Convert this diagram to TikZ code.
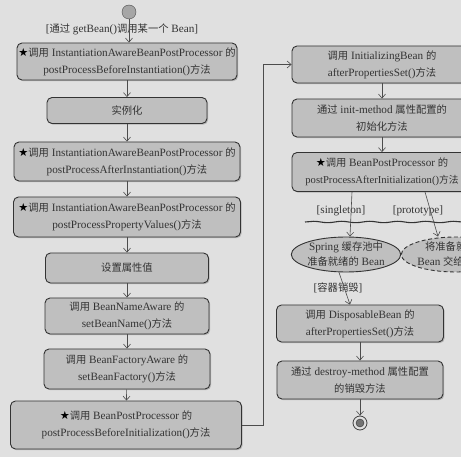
\documentclass[tikz,border=0pt]{standalone}
\usepackage{fontspec}
\setmainfont{Liberation Serif}
\newfontfamily\cjk[Scale=0.92]{Noto Sans CJK SC}
\newfontfamily\symf{DejaVu Sans}
\newcommand\zh[1]{{\cjk #1}}
\newcommand\st{{\symf\color{black}★}}
\usetikzlibrary{arrows.meta,shapes.geometric,shadows,decorations.pathmorphing}
\begin{document}
\begin{tikzpicture}[x=1pt,y=-1pt,
  box/.style={draw=black!80, line width=0.9pt, rounded corners=5pt, fill=black!25,
    text=black!80, align=center, inner sep=1pt,
    font=\fontsize{11.2}{17}\selectfont,
    drop shadow={shadow xshift=1.2pt,shadow yshift=-1.2pt,opacity=0.45}},
  ell/.style={ellipse, draw=black!80, line width=0.9pt, fill=black!25, text=black!80,
    align=center, inner sep=0pt, minimum width=104pt, minimum height=35pt,
    font=\fontsize{11.2}{15}\selectfont},
  arr/.style={draw=black!70, line width=0.6pt, -{Straight Barb[length=4pt,width=7pt]}},
  lab/.style={text=black!80, font=\fontsize{11.2}{12}\selectfont, inner sep=1pt}]
\useasboundingbox (0,0) rectangle (461,457);
\fill[black!12] (0,0) rectangle (461,457);
\clip (0,0) rectangle (461,457);

% start
\node[circle, draw=black!70, fill=black!35, minimum size=14pt, inner sep=0pt] (start) at (129,12) {};
\node[lab] (startlab) at (122,29) {[\zh{通过} getBean()\zh{调用某一个} Bean]};

% left column
\node[box, minimum width=220pt, minimum height=37pt] (b1) at (127,61.5)
  {\st\zh{调用} InstantiationAwareBeanPostProcessor \zh{的}\\postProcessBeforeInstantiation()\zh{方法}};
\node[box, minimum width=160pt, minimum height=26pt] (b2) at (127,110.5) {\zh{实例化}};
\node[box, minimum width=226pt, minimum height=39pt] (b3) at (127,161.5)
  {\st\zh{调用} InstantiationAwareBeanPostProcessor \zh{的}\\postProcessAfterInstantiation()\zh{方法}};
\node[box, minimum width=227pt, minimum height=40pt] (b4) at (127,217)
  {\st\zh{调用} InstantiationAwareBeanPostProcessor \zh{的}\\postProcessPropertyValues()\zh{方法}};
\node[box, minimum width=163pt, minimum height=30pt] (b5) at (127,268) {\zh{设置属性值}};
\node[box, minimum width=164pt, minimum height=36pt] (b6) at (127,316)
  {\zh{调用} BeanNameAware \zh{的}\\setBeanName()\zh{方法}};
\node[box, minimum width=166pt, minimum height=40pt] (b7) at (127,369)
  {\zh{调用} BeanFactoryAware \zh{的}\\setBeanFactory()\zh{方法}};
\node[box, minimum width=231pt, minimum height=48pt] (b8) at (126,425)
  {\st\zh{调用} BeanPostProcessor \zh{的}\\postProcessBeforeInitialization()\zh{方法}};

% right column
\node[box, minimum width=180pt, minimum height=37pt] (r1) at (382,64.5)
  {\zh{调用} InitializingBean \zh{的}\\afterPropertiesSet()\zh{方法}};
\node[box, minimum width=180pt, minimum height=38pt] (r2) at (382,118)
  {\zh{通过} init-method \zh{属性配置的}\\\zh{初始化方法}};
\node[box, minimum width=180pt, minimum height=39pt] (r3) at (382,172)
  {\st\zh{调用} BeanPostProcessor \zh{的}\\{\fontsize{10.6}{17}\selectfont postProcessAfterInitialization()\zh{方法}}};
\node[ell] (e1) at (346,254.5) {Spring \zh{缓存池中}\\\zh{准备就绪的} Bean};
\node[ell, dashed, dash pattern=on 4pt off 2.5pt] (e2) at (456,254.5) {\zh{将准备就绪的}\\Bean \zh{交给调用者}};
\node[box, minimum width=167pt, minimum height=37pt] (r4) at (360,323.5)
  {\zh{调用} DisposableBean \zh{的}\\afterPropertiesSet()\zh{方法}};
\node[box, minimum width=166pt, minimum height=38pt] (r5) at (360,380)
  {\zh{通过} destroy-method \zh{属性配置}\\\zh{的销毁方法}};
\node[circle, draw=black!75, line width=0.8pt, fill=black!12, minimum size=14pt, inner sep=0pt] (end) at (360,423) {};
\node[circle, fill=black!55, draw=black!80, minimum size=8pt, inner sep=0pt] (endin) at (end) {};

% fork bar
\draw[line width=1.1pt, black!80, decorate,
  decoration={snake, amplitude=0.7pt, segment length=28pt}] (305,222) -- (470,222);

% labels
\node[lab] (lsing) at (341,211) {[singleton]};
\node[lab] (lproto) at (418,211) {[prototype]};
\node[lab] (ldes) at (338,288) {[\zh{容器销毁}]};

% connectors
\draw[arr] (start.south) -- (start.south |- b1.north);
\draw[arr] (b1) -- (b2);
\draw[arr] (b2) -- (b3);
\draw[arr] (b3) -- (b4);
\draw[arr] (b4) -- (b5);
\draw[arr] (b5) -- (b6);
\draw[arr] (b6) -- (b7);
\draw[arr] (b7) -- (b8);
\draw[arr] (b8.east) -- ++(21,0) |- (r1.west);
\draw[arr] (r1) -- (r2);
\draw[arr] (r2) -- (r3);
\draw[arr] ([xshift=-30pt]r3.south) -- ([xshift=4pt]e1.north);
\draw[arr] ([xshift=43pt]r3.south) -- ([xshift=-18pt]e2.north);
\draw[arr] ([xshift=-7pt]e1.south) -- ([xshift=-10pt]r4.north);
\draw[arr] (r4) -- (r5);
\draw[arr] (r5) -- (end);
\end{tikzpicture}
\end{document}
